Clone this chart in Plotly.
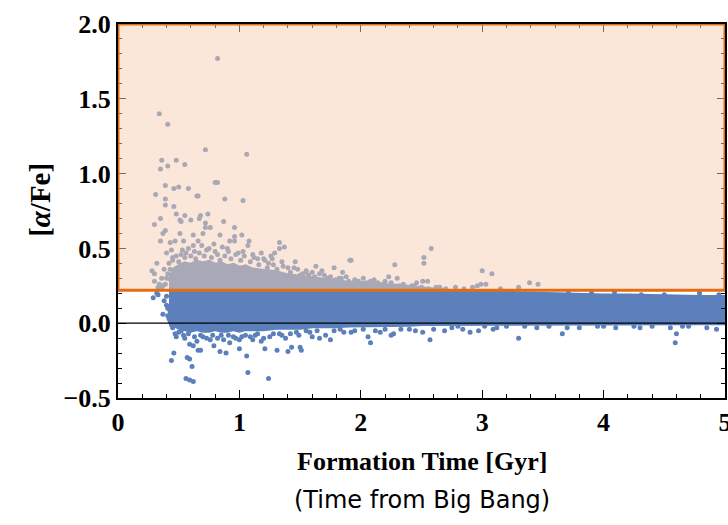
import plotly.graph_objects as go

# ---- data ----
# dense core of the star-particle cloud (envelope of the solid region)
band_x = [0.42, 0.44, 0.46, 0.50, 0.55, 0.60, 0.65, 0.70, 0.75, 0.80, 0.85, 0.90, 0.95, 1.00,
          1.05, 1.10, 1.20, 1.30, 1.40, 1.50, 1.60, 1.70, 1.80, 1.90, 2.00, 2.10, 2.20, 2.30,
          2.40, 2.50, 2.60, 2.80, 3.00, 3.20, 3.40, 3.60, 3.80, 4.00, 4.20, 4.40, 4.60, 4.80, 5.00]
band_top = [0.28, 0.33, 0.36, 0.38, 0.40, 0.39, 0.41, 0.40, 0.41, 0.39, 0.40, 0.38, 0.39, 0.37,
            0.38, 0.36, 0.35, 0.34, 0.32, 0.31, 0.30, 0.29, 0.285, 0.27, 0.27, 0.26, 0.255, 0.25,
            0.24, 0.235, 0.225, 0.21, 0.205, 0.20, 0.195, 0.19, 0.19, 0.185, 0.185, 0.18, 0.18,
            0.175, 0.175]
band_bottom = [0.10, 0.03, -0.01, -0.03, -0.04, -0.05, -0.04, -0.05, -0.05, -0.04, -0.05, -0.05,
               -0.04, -0.05, -0.04, -0.04, -0.04, -0.03, -0.03, -0.03, -0.02, -0.02, -0.02,
               -0.015, -0.015, -0.01, -0.01, -0.01, -0.01, -0.005, -0.005, 0.0, 0.0, 0.0, 0.0,
               0.0, 0.0, 0.0, 0.0, 0.0, 0.0, 0.0, 0.0]

# individual scattered star particles (formation time [Gyr], [alpha/Fe])
pts_x = [0.82, 0.34, 0.41, 0.72, 1.06, 0.36, 0.48, 0.35, 0.41, 0.55, 0.80, 0.82, 0.39, 0.46, 0.50,
         0.58, 0.65, 0.66, 0.31, 0.88, 1.03, 0.39, 0.39, 0.46, 0.74, 0.48, 0.55, 0.67, 0.60, 0.87,
         0.35, 0.52, 0.72, 0.96, 0.76, 1.02, 1.08, 0.96, 1.33, 1.37, 1.33, 1.91, 1.46, 1.63, 1.11,
         1.26, 1.78, 1.85, 2.58, 2.52, 2.52, 2.28, 1.92, 1.55, 3.00, 2.23, 2.30, 2.51, 2.55, 3.08,
         3.39, 3.46, 3.03, 2.92, 2.96, 2.99, 0.30, 0.28, 0.30, 0.30, 0.32, 0.35, 0.37, 0.39, 0.51,
         0.68, 1.29, 1.27, 1.21, 1.07, 0.92, 0.91, 0.96, 0.84, 0.70, 0.72, 0.62, 0.66, 0.51, 0.54,
         0.43, 0.47, 0.40, 0.44, 1.55,
         0.58, 0.63, 0.69, 0.75, 0.80, 0.86, 0.99, 1.04, 1.15, 1.18, 1.24, 1.35, 1.40, 1.48, 1.52,
         1.60, 1.66, 1.70, 1.75, 1.82, 1.88, 1.95, 2.02, 2.08, 2.14, 2.20, 2.35, 2.42, 2.46, 2.62,
         2.70, 2.78, 0.42, 0.45, 0.52, 0.55, 0.38, 0.36, 0.34, 0.33, 0.37,
         0.45, 0.48, 0.50, 0.53, 0.56, 0.60, 0.62, 0.64, 0.67, 0.71, 0.73, 0.77, 0.79, 0.82, 0.84,
         0.88, 0.90, 0.93, 0.97, 1.01, 1.03, 1.09, 1.12, 1.16, 1.20, 1.23, 1.28, 1.31, 1.36, 1.42,
         1.45, 1.50, 1.57, 1.62, 1.68, 1.73, 1.79, 1.84, 1.90, 1.98, 2.05, 2.11, 2.18, 2.25, 2.32,
         2.38, 2.44, 2.50, 2.56, 2.65, 2.85, 3.15, 3.30, 0.43, 0.41, 0.40, 0.39, 0.36,
         0.29, 0.37, 0.40, 0.32, 0.33, 0.38, 0.41, 0.43, 0.40, 0.41, 0.42, 0.44,
         0.46, 0.44, 0.57, 0.59, 0.61, 0.56, 0.59, 0.62, 1.07, 1.24, 0.66, 0.68, 0.84, 0.89, 1.00,
         1.06, 1.21, 1.31, 1.40, 1.51, 1.43, 0.47, 0.48, 0.59, 0.62, 0.76, 0.79, 0.92, 1.00, 1.11,
         1.18, 1.33, 1.47, 1.55, 1.60, 1.66, 1.71, 1.75, 1.86, 2.08, 2.06, 2.16, 2.27, 2.51, 2.57,
         2.69, 2.84, 2.90, 2.97, 1.50, 3.30, 3.66, 4.60, 4.59, 3.09, 4.93, 2.25, 3.12, 3.20, 3.45,
         3.55, 3.80, 3.95, 4.10, 4.25, 4.40, 4.55, 4.70, 4.85, 0.70, 0.85, 0.95, 1.05, 1.15, 1.25,
         1.38, 0.55, 0.65, 0.52, 1.95, 2.40, 2.75,
         0.50, 0.54, 0.58, 0.63, 0.68, 0.73, 0.78, 0.82, 0.87, 0.91, 0.97, 1.02, 1.09, 1.13, 1.20,
         1.28, 1.35, 1.42, 1.49, 1.58, 1.64, 1.78, 1.83, 1.92, 2.02, 2.12, 2.20, 2.33, 2.45, 2.60,
         2.80, 3.02, 3.35, 3.70, 4.00, 4.30, 4.65, 0.45, 0.47,
         4.09, 4.31, 4.79, 3.71, 3.25, 3.90, 4.50, 4.95]
pts_y = [1.77, 1.40, 1.33, 1.16, 1.13, 1.09, 1.09, 1.03, 1.05, 1.06, 0.94, 0.94, 0.92, 0.90, 0.91,
         0.90, 0.85, 0.85, 0.86, 0.83, 0.82, 0.83, 0.79, 0.78, 0.73, 0.73, 0.72, 0.70, 0.69, 0.68,
         0.70, 0.68, 0.67, 0.64, 0.64, 0.59, 0.55, 0.55, 0.54, 0.51, 0.50, 0.42, 0.41, 0.38, 0.46,
         0.45, 0.37, 0.34, 0.50, 0.44, 0.40, 0.39, 0.42, 0.34, 0.35, 0.31, 0.30, 0.28, 0.28, 0.33,
         0.27, 0.26, 0.26, 0.24, 0.25, 0.26, 0.66, 0.35, 0.33, 0.28, 0.40, 0.55, 0.60, 0.62, 0.69,
         0.72, 0.47, 0.43, 0.42, 0.52, 0.55, 0.48, 0.58, 0.59, 0.60, 0.64, 0.59, 0.55, 0.60, 0.55,
         0.54, 0.55, 0.47, 0.49, 0.35,
         0.50, 0.48, 0.52, 0.50, 0.48, 0.51, 0.47, 0.45, 0.43, 0.47, 0.40, 0.41, 0.37, 0.36, 0.33,
         0.34, 0.33, 0.32, 0.31, 0.30, 0.31, 0.29, 0.30, 0.28, 0.27, 0.28, 0.26, 0.25, 0.27, 0.24,
         0.23, 0.24, 0.40, 0.44, 0.46, 0.44, 0.36, 0.30, 0.26, 0.24, 0.25,
         0.42, 0.45, 0.41, 0.49, 0.47, 0.45, 0.52, 0.43, 0.47, 0.45, 0.49, 0.44, 0.53, 0.46, 0.42,
         0.45, 0.50, 0.43, 0.46, 0.42, 0.48, 0.41, 0.44, 0.39, 0.43, 0.37, 0.39, 0.36, 0.38, 0.34,
         0.37, 0.32, 0.32, 0.31, 0.35, 0.30, 0.29, 0.30, 0.28, 0.28, 0.27, 0.29, 0.26, 0.27, 0.25,
         0.24, 0.25, 0.24, 0.23, 0.24, 0.23, 0.23, 0.24, 0.36, 0.33, 0.30, 0.26, 0.23,
         0.17, 0.06, 0.12, 0.20, 0.19, 0.15, 0.05, 0.01, 0.18, 0.10, 0.03, -0.01,
         -0.20, -0.25, -0.23, -0.24, -0.29, -0.37, -0.38, -0.39, -0.33, -0.37, -0.18, -0.18, -0.19,
         -0.20, -0.17, -0.22, -0.17, -0.18, -0.19, -0.18, -0.16, -0.07, -0.09, -0.14, -0.15, -0.11,
         -0.15, -0.13, -0.11, -0.11, -0.12, -0.07, -0.06, -0.05, -0.09, -0.10, -0.08, -0.11, -0.06,
         -0.13, -0.09, -0.06, -0.07, -0.06, -0.11, -0.05, -0.04, -0.06, -0.05, -0.16, -0.10, -0.07,
         -0.07, -0.13, -0.04, -0.04, -0.08, -0.03, -0.02, -0.03, -0.02, -0.03, -0.02, -0.03, -0.02,
         -0.02, -0.03, -0.02, -0.03, -0.09, -0.08, -0.09, -0.08, -0.07, -0.09, -0.10, -0.10, -0.12,
         -0.05, -0.05, -0.04, -0.03,
         -0.06, -0.08, -0.07, -0.09, -0.08, -0.10, -0.08, -0.10, -0.11, -0.08, -0.10, -0.09, -0.09,
         -0.08, -0.10, -0.07, -0.08, -0.07, -0.08, -0.06, -0.05, -0.05, -0.04, -0.06, -0.04, -0.05,
         -0.04, -0.04, -0.05, -0.04, -0.02, -0.02, -0.02, -0.03, -0.02, -0.03, -0.02, -0.03, 0.00,
         0.21, 0.19, 0.20, 0.20, 0.21, 0.20, 0.19, 0.19]

# highlighted alpha-enhanced region
region_low = 0.22
region_high = 2.0
x_range = [0, 5]
y_range = [-0.5, 2.0]

BLUE = "#5b80bb"
SERIF = "Liberation Serif, Times New Roman, serif"

fig = go.Figure()

fig.add_trace(go.Scatter(
    x=band_x + band_x[::-1],
    y=band_top + band_bottom[::-1],
    fill="toself", fillcolor=BLUE, mode="lines",
    line=dict(color=BLUE, width=4),
    hoverinfo="skip", showlegend=False))

fig.add_trace(go.Scatter(
    x=pts_x, y=pts_y, mode="markers",
    marker=dict(color=BLUE, size=5, line=dict(width=0)),
    showlegend=False))

# zero line
fig.add_shape(type="line", xref="x", yref="y", x0=x_range[0], x1=x_range[1], y0=0, y1=0,
              line=dict(color="black", width=1.2), layer="above")
# shaded region (semi-transparent, above data)
fig.add_shape(type="rect", xref="x", yref="y", x0=x_range[0], x1=x_range[1],
              y0=region_low, y1=region_high,
              fillcolor="rgba(247,207,179,0.5)",
              line=dict(color="#e46c12", width=3), layer="above")

axis_common = dict(
    showline=True, linecolor="black", linewidth=2, mirror="allticks",
    ticks="inside", ticklen=8, tickwidth=1.3, tickcolor="black",
    showgrid=False, zeroline=False, ticklabeloverflow="allow", automargin=False,
    tickfont=dict(family=SERIF, size=26, color="black", weight="bold"),
)

fig.update_xaxes(range=x_range, dtick=1, tick0=0,
                 minor=dict(dtick=0.2, ticks="inside", ticklen=4, tickcolor="black", tickwidth=1),
                 **axis_common)
fig.update_yaxes(range=y_range, dtick=0.5, tick0=0, tickformat=".1f",
                 minor=dict(dtick=0.1, ticks="inside", ticklen=4, tickcolor="black", tickwidth=1),
                 **axis_common)

fig.add_annotation(text="<b>[<i>α</i>/Fe]</b>", xref="paper", yref="paper",
                   x=-0.158, y=0.53, showarrow=False, textangle=-90,
                   font=dict(family=SERIF, size=29, color="black"))
fig.add_annotation(text="<b>Formation Time [Gyr]</b>", xref="paper", yref="paper",
                   x=0.5, y=-0.171, yanchor="middle", showarrow=False,
                   font=dict(family=SERIF, size=26, color="black"))
fig.add_annotation(text="(Time from Big Bang)", xref="paper", yref="paper",
                   x=0.5, y=-0.273, yanchor="middle", showarrow=False,
                   font=dict(family="DejaVu Sans", size=24, color="black"))

fig.update_layout(
    width=728, height=525,
    margin=dict(l=118, r=3, t=24, b=127, autoexpand=False),
    paper_bgcolor="white", plot_bgcolor="white",
)

fig.write_html("out.html")
